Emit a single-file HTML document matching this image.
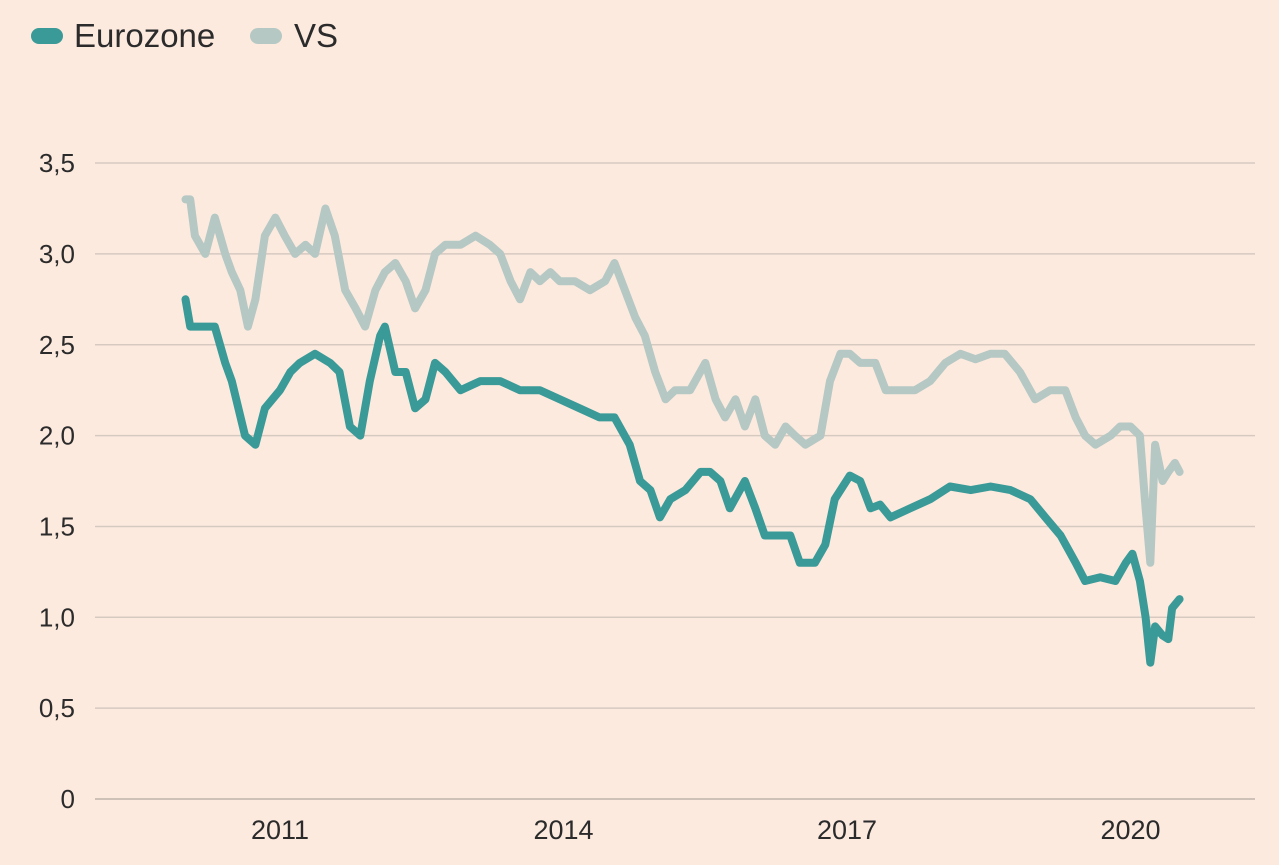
<!DOCTYPE html>
<html><head><meta charset="utf-8">
<style>
html,body{margin:0;padding:0;background:#fdeadf;}
body{width:1279px;height:865px;overflow:hidden;font-family:"Liberation Sans",sans-serif;}
svg{display:block}
</style></head>
<body>
<svg id="chart" width="1279" height="865" viewBox="0 0 1279 865">
<g id="legend">
 <g>
  <rect x="31" y="28" width="32" height="16" rx="8" fill="#3a9a98"/>
  <text x="74" y="47" font-size="33" fill="#2b2b2b">Eurozone</text>
 </g>
 <g>
  <rect x="250" y="28" width="32" height="16" rx="8" fill="#b5c8c4"/>
  <text x="294" y="47" font-size="33" fill="#2b2b2b">VS</text>
 </g>
</g>
<g id="grid"></g>
<g id="yticks"></g>
<g id="xticks"></g>
<g id="series"></g>
</svg>
<script>
const yTicks=[0,0.5,1.0,1.5,2.0,2.5,3.0,3.5];
const yTickLabels=["0","0,5","1,0","1,5","2,0","2,5","3,0","3,5"];
const xTicks=[2011,2014,2017,2020];
const xTickLabels=["2011","2014","2017","2020"];
const euDates=[2010.0,2010.05,2010.31,2010.42,2010.49,2010.63,2010.74,2010.84,2011.0,2011.11,2011.21,2011.37,2011.53,2011.63,2011.74,2011.85,2011.95,2012.06,2012.11,2012.22,2012.33,2012.43,2012.54,2012.64,2012.75,2012.91,2013.12,2013.33,2013.54,2013.75,2013.96,2014.17,2014.38,2014.54,2014.70,2014.81,2014.92,2015.02,2015.13,2015.29,2015.45,2015.55,2015.66,2015.76,2015.92,2016.03,2016.13,2016.29,2016.40,2016.5,2016.66,2016.77,2016.87,2017.03,2017.14,2017.25,2017.35,2017.46,2017.67,2017.88,2018.09,2018.31,2018.52,2018.73,2018.94,2019.10,2019.26,2019.42,2019.52,2019.68,2019.84,2019.95,2020.02,2020.10,2020.16,2020.21,2020.26,2020.34,2020.40,2020.44,2020.52];
const euValues=[2.75,2.6,2.6,2.4,2.3,2.0,1.95,2.15,2.25,2.35,2.4,2.45,2.4,2.35,2.05,2.0,2.3,2.55,2.6,2.35,2.35,2.15,2.2,2.4,2.35,2.25,2.3,2.3,2.25,2.25,2.2,2.15,2.1,2.1,1.95,1.75,1.7,1.55,1.65,1.7,1.8,1.8,1.75,1.6,1.75,1.6,1.45,1.45,1.45,1.3,1.3,1.4,1.65,1.78,1.75,1.6,1.62,1.55,1.6,1.65,1.72,1.7,1.72,1.7,1.65,1.55,1.45,1.3,1.2,1.22,1.2,1.3,1.35,1.2,1.0,0.75,0.95,0.9,0.88,1.05,1.1];
const vsDates=[2010.0,2010.05,2010.10,2010.21,2010.31,2010.42,2010.49,2010.58,2010.66,2010.74,2010.84,2010.95,2011.05,2011.16,2011.27,2011.37,2011.48,2011.58,2011.69,2011.80,2011.90,2012.01,2012.11,2012.22,2012.33,2012.43,2012.54,2012.64,2012.75,2012.91,2013.07,2013.22,2013.33,2013.44,2013.54,2013.65,2013.75,2013.86,2013.96,2014.12,2014.28,2014.44,2014.54,2014.65,2014.76,2014.86,2014.97,2015.08,2015.18,2015.34,2015.50,2015.61,2015.71,2015.82,2015.92,2016.03,2016.13,2016.24,2016.35,2016.45,2016.56,2016.72,2016.82,2016.93,2017.03,2017.14,2017.30,2017.41,2017.56,2017.72,2017.88,2018.04,2018.20,2018.36,2018.52,2018.67,2018.83,2018.99,2019.15,2019.31,2019.42,2019.52,2019.63,2019.79,2019.89,2020.0,2020.10,2020.16,2020.21,2020.26,2020.34,2020.40,2020.47,2020.52];
const vsValues=[3.3,3.3,3.1,3.0,3.2,3.0,2.9,2.8,2.6,2.75,3.1,3.2,3.1,3.0,3.05,3.0,3.25,3.1,2.8,2.7,2.6,2.8,2.9,2.95,2.85,2.7,2.8,3.0,3.05,3.05,3.1,3.05,3.0,2.85,2.75,2.9,2.85,2.9,2.85,2.85,2.8,2.85,2.95,2.8,2.65,2.55,2.35,2.2,2.25,2.25,2.4,2.2,2.1,2.2,2.05,2.2,2.0,1.95,2.05,2.0,1.95,2.0,2.3,2.45,2.45,2.4,2.4,2.25,2.25,2.25,2.3,2.4,2.45,2.42,2.45,2.45,2.35,2.2,2.25,2.25,2.1,2.0,1.95,2.0,2.05,2.05,2.0,1.6,1.3,1.95,1.75,1.8,1.85,1.8];

const NS="http://www.w3.org/2000/svg";
const X=d=>185.5+(d-2010)*94.5;
const Y=v=>799-v*181.7;
const grid=document.getElementById('grid'),yt=document.getElementById('yticks'),xt=document.getElementById('xticks'),ser=document.getElementById('series');
yTicks.forEach((v,i)=>{
 const l=document.createElementNS(NS,'line');
 l.setAttribute('x1',95);l.setAttribute('x2',1255);l.setAttribute('y1',Y(v));l.setAttribute('y2',Y(v));
 l.setAttribute('stroke',v===0?'#bfb3ab':'#d6c9c0');l.setAttribute('stroke-width',1.5);
 
 
 grid.appendChild(l);
 const t=document.createElementNS(NS,'text');
 t.setAttribute('x',75);t.setAttribute('y',Y(v)+9);t.setAttribute('text-anchor','end');
 t.setAttribute('font-size','26');t.setAttribute('fill','#2b2b2b');t.textContent=yTickLabels[i];
 
 
 yt.appendChild(t);
});
xTicks.forEach((d,i)=>{
 const t=document.createElementNS(NS,'text');
 t.setAttribute('x',X(d));t.setAttribute('y',839);t.setAttribute('text-anchor','middle');
 t.setAttribute('font-size','27');t.setAttribute('fill','#2b2b2b');t.textContent=xTickLabels[i];
 
 
 xt.appendChild(t);
});
function line(dates,vals,color,name){
 const p=document.createElementNS(NS,'polyline');
 p.setAttribute('points',dates.map((d,i)=>X(d).toFixed(1)+','+Y(vals[i]).toFixed(1)).join(' '));
 p.setAttribute('fill','none');p.setAttribute('stroke',color);p.setAttribute('stroke-width',8);
 p.setAttribute('stroke-linejoin','round');p.setAttribute('stroke-linecap','round');
 
 
 ser.appendChild(p);
}
line(vsDates,vsValues,'#b5c8c4','vs-line');
line(euDates,euValues,'#3a9a98','eurozone-line');
</script>
</body></html>
